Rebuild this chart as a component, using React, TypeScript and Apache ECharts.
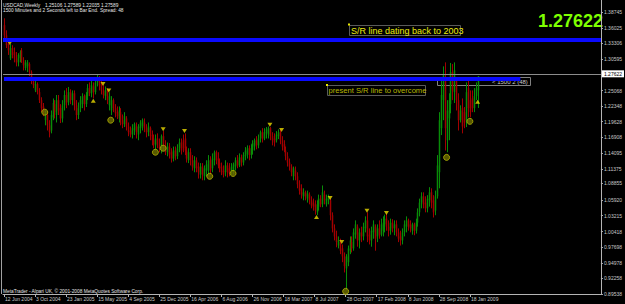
import React, { useEffect, useRef } from "react";
import * as echarts from "echarts";

// ---- data ----
const xTickLabels = [
  "12 Jun 2004", "3 Oct 2004", "23 Jan 2005", "15 May 2005", "4 Sep 2005", "25 Dec 2005",
  "16 Apr 2006", "6 Aug 2006", "26 Nov 2006", "18 Mar 2007", "8 Jul 2007", "28 Oct 2007",
  "17 Feb 2008", "8 Jun 2008", "28 Sep 2008", "18 Jan 2009",
];
const yTickValues = [
  0.89538, 0.92258, 0.94978, 0.97698, 1.00418, 1.03215, 1.0592, 1.08855, 1.11375, 1.14095,
  1.16908, 1.19628, 1.22348, 1.25068, 1.30595, 1.33306, 1.36025, 1.38745,
];
const yMin = 0.89538;
const yMax = 1.40894;
const SLOTS = 308; // weekly slots visible on the chart (bars + empty space on the right)

// weekly candles: [open, close, low, high]
const candles: number[][] = [
  [1.365,1.347,1.339,1.377],[1.347,1.330,1.325,1.356],[1.332,1.321,1.313,1.339],[1.307,1.325,1.304,1.332],[1.325,1.313,1.307,1.330],
  [1.318,1.307,1.300,1.326],[1.307,1.300,1.293,1.318],[1.300,1.313,1.293,1.316],[1.307,1.318,1.300,1.321],[1.321,1.304,1.299,1.325],
  [1.304,1.295,1.286,1.309],[1.290,1.300,1.286,1.304],[1.293,1.300,1.283,1.304],[1.297,1.283,1.276,1.300],[1.283,1.269,1.262,1.286],
  [1.269,1.260,1.255,1.274],[1.251,1.262,1.248,1.269],[1.262,1.248,1.244,1.265],[1.248,1.234,1.229,1.255],[1.234,1.220,1.213,1.239],
  [1.223,1.213,1.206,1.229],[1.199,1.211,1.190,1.216],[1.208,1.190,1.181,1.213],[1.190,1.178,1.169,1.199],[1.181,1.208,1.176,1.216],
  [1.204,1.229,1.199,1.237],[1.227,1.213,1.202,1.234],[1.208,1.234,1.195,1.243],[1.234,1.216,1.208,1.243],[1.220,1.202,1.194,1.227],
  [1.202,1.225,1.195,1.234],[1.225,1.243,1.216,1.251],[1.243,1.230,1.220,1.255],[1.230,1.248,1.225,1.257],[1.248,1.234,1.227,1.253],
  [1.234,1.246,1.225,1.251],[1.246,1.225,1.216,1.251],[1.225,1.208,1.199,1.234],[1.208,1.220,1.201,1.230],[1.220,1.234,1.213,1.241],
  [1.227,1.241,1.220,1.246],[1.241,1.227,1.216,1.244],[1.227,1.243,1.222,1.248],[1.241,1.255,1.234,1.262],[1.255,1.246,1.241,1.265],
  [1.246,1.260,1.239,1.269],[1.258,1.248,1.237,1.265],[1.248,1.265,1.244,1.272],[1.265,1.272,1.258,1.279],[1.271,1.260,1.251,1.276],
  [1.262,1.251,1.244,1.269],[1.251,1.243,1.237,1.260],[1.241,1.251,1.234,1.258],[1.251,1.234,1.227,1.255],[1.225,1.241,1.216,1.248],
  [1.216,1.234,1.208,1.241],[1.234,1.220,1.213,1.237],[1.220,1.211,1.204,1.227],[1.213,1.206,1.201,1.223],[1.202,1.216,1.195,1.223],
  [1.213,1.199,1.190,1.220],[1.199,1.192,1.185,1.209],[1.192,1.206,1.187,1.213],[1.202,1.188,1.181,1.206],[1.188,1.178,1.171,1.195],
  [1.181,1.174,1.169,1.188],[1.174,1.185,1.167,1.192],[1.181,1.192,1.173,1.195],[1.188,1.178,1.167,1.195],[1.174,1.188,1.164,1.192],
  [1.185,1.195,1.176,1.199],[1.188,1.199,1.181,1.202],[1.195,1.185,1.178,1.202],[1.185,1.178,1.169,1.192],[1.178,1.188,1.171,1.195],
  [1.185,1.171,1.164,1.188],[1.173,1.164,1.155,1.181],[1.164,1.157,1.150,1.174],[1.155,1.167,1.146,1.174],[1.167,1.157,1.150,1.176],
  [1.157,1.150,1.143,1.167],[1.146,1.171,1.141,1.174],[1.171,1.155,1.146,1.180],[1.155,1.143,1.138,1.164],[1.143,1.153,1.136,1.160],
  [1.153,1.139,1.132,1.159],[1.143,1.132,1.125,1.150],[1.132,1.146,1.127,1.153],[1.146,1.136,1.129,1.153],[1.136,1.150,1.131,1.157],
  [1.150,1.160,1.143,1.167],[1.160,1.146,1.139,1.167],[1.164,1.150,1.143,1.174],[1.167,1.146,1.138,1.176],[1.146,1.132,1.125,1.153],
  [1.129,1.143,1.124,1.150],[1.143,1.129,1.120,1.150],[1.129,1.118,1.111,1.138],[1.115,1.129,1.108,1.136],[1.129,1.115,1.108,1.134],
  [1.118,1.108,1.097,1.125],[1.104,1.118,1.097,1.124],[1.118,1.104,1.094,1.124],[1.101,1.115,1.094,1.120],[1.111,1.122,1.101,1.129],
  [1.111,1.129,1.104,1.138],[1.129,1.111,1.104,1.136],[1.115,1.132,1.108,1.141],[1.129,1.143,1.120,1.146],[1.143,1.129,1.122,1.146],
  [1.132,1.120,1.115,1.143],[1.124,1.115,1.108,1.132],[1.118,1.108,1.103,1.125],[1.111,1.104,1.099,1.120],[1.108,1.120,1.101,1.129],
  [1.120,1.108,1.099,1.125],[1.115,1.106,1.101,1.124],[1.108,1.118,1.103,1.124],[1.111,1.122,1.104,1.125],[1.118,1.129,1.111,1.134],
  [1.129,1.120,1.115,1.138],[1.120,1.134,1.117,1.141],[1.134,1.125,1.118,1.139],[1.125,1.138,1.120,1.143],[1.136,1.146,1.129,1.152],
  [1.139,1.150,1.132,1.155],[1.150,1.138,1.129,1.155],[1.138,1.150,1.132,1.157],[1.146,1.159,1.139,1.164],[1.153,1.164,1.146,1.167],
  [1.164,1.155,1.148,1.171],[1.155,1.167,1.150,1.174],[1.167,1.178,1.160,1.181],[1.178,1.167,1.160,1.185],[1.167,1.178,1.164,1.185],
  [1.176,1.183,1.167,1.187],[1.174,1.185,1.167,1.188],[1.185,1.171,1.164,1.187],[1.171,1.164,1.155,1.178],[1.167,1.160,1.153,1.176],
  [1.164,1.174,1.160,1.180],[1.171,1.178,1.166,1.183],[1.178,1.164,1.157,1.183],[1.164,1.153,1.146,1.171],[1.157,1.146,1.143,1.164],
  [1.146,1.136,1.129,1.153],[1.136,1.125,1.118,1.143],[1.125,1.118,1.111,1.132],[1.118,1.108,1.101,1.122],[1.101,1.115,1.094,1.118],
  [1.111,1.101,1.094,1.118],[1.101,1.087,1.080,1.108],[1.087,1.076,1.069,1.094],[1.080,1.069,1.062,1.087],[1.066,1.073,1.059,1.080],
  [1.073,1.066,1.059,1.076],[1.062,1.071,1.055,1.076],[1.069,1.059,1.052,1.073],[1.059,1.050,1.045,1.066],[1.055,1.048,1.041,1.062],
  [1.052,1.041,1.034,1.059],[1.038,1.052,1.033,1.059],[1.048,1.062,1.041,1.069],[1.062,1.052,1.047,1.068],[1.052,1.073,1.047,1.085],
  [1.069,1.059,1.052,1.076],[1.052,1.062,1.048,1.069],[1.059,1.066,1.052,1.069],[1.059,1.033,1.024,1.062],[1.033,1.010,1.003,1.038],
  [1.010,0.996,0.989,1.017],[0.996,0.986,0.977,1.006],[0.980,0.989,0.975,0.996],[0.986,0.971,0.965,0.992],[0.975,0.961,0.951,0.982],
  [0.961,0.944,0.933,0.968],[0.940,0.961,0.903,0.965],[0.951,0.975,0.944,0.980],[0.971,0.989,0.965,0.996],[0.986,0.975,0.968,0.996],
  [0.975,1.003,0.971,1.010],[0.999,1.017,0.992,1.024],[1.013,0.989,0.978,1.017],[0.989,1.003,0.975,1.010],[1.003,0.996,0.986,1.013],
  [0.996,1.013,0.989,1.020],[1.010,1.024,1.003,1.031],[1.024,0.996,0.986,1.038],[0.999,0.989,0.982,1.010],[0.989,1.006,0.978,1.013],
  [1.003,1.017,0.992,1.024],[1.013,0.992,0.971,1.017],[0.996,1.010,0.986,1.017],[1.010,0.999,0.992,1.024],[0.999,1.017,0.996,1.027],
  [1.006,1.020,0.996,1.031],[1.017,1.027,1.003,1.034],[1.027,1.013,1.006,1.036],[1.013,1.006,0.996,1.024],[1.006,1.020,0.999,1.027],
  [1.020,1.010,1.003,1.026],[1.010,1.017,0.998,1.024],[1.017,1.003,0.996,1.024],[1.003,0.992,0.986,1.010],[0.996,0.989,0.980,1.006],
  [0.989,1.003,0.982,1.010],[1.003,1.017,0.996,1.024],[1.013,1.024,1.003,1.031],[1.024,1.013,1.006,1.027],[1.017,1.010,1.003,1.024],
  [1.006,1.017,0.999,1.020],[1.017,1.006,0.998,1.020],[1.006,1.020,1.001,1.027],[1.020,1.038,1.013,1.045],[1.038,1.055,1.031,1.062],
  [1.055,1.066,1.045,1.073],[1.066,1.052,1.045,1.073],[1.055,1.045,1.038,1.066],[1.045,1.062,1.038,1.068],[1.059,1.073,1.048,1.082],
  [1.073,1.055,1.045,1.080],[1.059,1.038,1.029,1.068],[1.041,1.066,1.033,1.076],[1.066,1.120,1.062,1.138],[1.108,1.199,1.080,1.213],
  [1.185,1.243,1.173,1.269],[1.234,1.278,1.199,1.293],[1.272,1.185,1.146,1.300],[1.164,1.216,1.143,1.234],[1.202,1.234,1.164,1.246],
  [1.227,1.283,1.211,1.299],[1.283,1.251,1.234,1.297],[1.248,1.286,1.229,1.300],[1.269,1.234,1.216,1.274],[1.234,1.199,1.181,1.246],
  [1.199,1.216,1.195,1.225],[1.220,1.188,1.176,1.237],[1.213,1.195,1.185,1.222],[1.199,1.248,1.187,1.265],[1.255,1.220,1.204,1.274],
  [1.234,1.213,1.204,1.251],[1.237,1.220,1.213,1.251],[1.220,1.241,1.213,1.255],[1.241,1.255,1.234,1.265],[1.25106,1.27589,1.22035,1.27589],
];

// fractal arrows [bar index, price]
const fractalHighs = [
  [3, 1.334], [51, 1.262], [54, 1.251], [82, 1.183], [93, 1.180], [137, 1.191],
  [143, 1.182], [168, 1.063], [174, 0.986], [187, 1.041], [197, 1.037],
];
const fractalLows = [[46, 1.233], [161, 1.030], [244, 1.231]];
// olive circle markers [bar index, price]
const circleMarks = [
  [21, 1.213], [55, 1.199], [78, 1.143], [82, 1.150], [106, 1.101], [118, 1.106],
  [176, 0.900], [228, 1.134], [240, 1.197],
];

const srLine2003 = 1.339;
const srLinePresent = 1.2715;
const srLinePresentEndBar = 266;
const currentPrice = 1.27622;
const currentPriceText = "1.27622";

const FONT = "'Liberation Sans', Arial, sans-serif";
const UP = "#088c08";
const DOWN = "#a20000";

export default function App() {
  const ref = useRef<HTMLDivElement>(null);

  useEffect(() => {
    document.body.style.margin = "0";
    document.body.style.background = "#000";
    if (!ref.current) return;
    const chart = echarts.init(ref.current, null, { renderer: "svg", width: 625, height: 304 });
    const categories = Array.from({ length: SLOTS }, (_, i) => String(i));
    const isTick = (i: number) => i % 16 === 0 && i / 16 < xTickLabels.length;

    const option: any = {
      animation: false,
      backgroundColor: "#000000",
      grid: { left: 3, right: 19, top: 0, bottom: 10, containLabel: false },
      xAxis: {
        type: "category",
        data: categories,
        boundaryGap: true,
        axisLine: { show: true, onZero: false, lineStyle: { color: "#b4b4b4", width: 1 } },
        axisTick: { show: true, alignWithLabel: true, interval: isTick, length: 3, lineStyle: { color: "#b4b4b4" } },
        axisLabel: {
          show: true,
          interval: isTick,
          formatter: (_v: string, i: number) => xTickLabels[i / 16] ?? "",
          align: "left",
          color: "#c8c8c8",
          fontSize: 5,
          fontFamily: FONT,
          margin: 2,
          padding: [0, 0, 0, 1],
        },
        splitLine: { show: false },
      },
      yAxis: {
        type: "value",
        position: "right",
        min: yMin,
        max: yMax,
        axisLine: { show: true, lineStyle: { color: "#b4b4b4", width: 1 } },
        axisTick: { show: true, customValues: yTickValues, length: 2, lineStyle: { color: "#b4b4b4" } },
        axisLabel: {
          show: true,
          customValues: yTickValues,
          formatter: (v: number) => v.toFixed(5),
          color: "#c8c8c8",
          fontSize: 5,
          fontFamily: FONT,
          margin: 3,
        },
        splitLine: { show: false },
      },
      series: [
        {
          type: "line",
          data: [],
          z: 1,
          silent: true,
          markLine: {
            silent: true,
            symbol: ["none", "none"],
            data: [
              { yAxis: srLine2003, lineStyle: { color: "#0a0aff", width: 4, type: "solid" }, label: { show: false } },
              [
                { coord: [0, srLinePresent], lineStyle: { color: "#0a0aff", width: 4, type: "solid" }, label: { show: false } },
                { coord: [srLinePresentEndBar, srLinePresent], lineStyle: { color: "#0a0aff", width: 4, type: "solid" } },
              ],
              {
                yAxis: currentPrice,
                lineStyle: { color: "#8c8c8c", width: 1, type: "solid" },
                label: {
                  show: true,
                  position: "end",
                  formatter: currentPriceText,
                  color: "#000",
                  backgroundColor: "#ffffff",
                  fontSize: 5,
                  fontFamily: FONT,
                  padding: [1, 2, 1, 2],
                  distance: 1,
                },
              },
            ],
          },
        },
        {
          type: "custom",
          z: 3,
          silent: true,
          data: candles.map((c, i) => [i, c[0], c[1], c[2], c[3]]),
          encode: { x: 0, y: [1, 2, 3, 4] },
          renderItem: (_params: any, api: any) => {
            const i = api.value(0);
            const o = api.value(1);
            const c = api.value(2);
            const l = api.value(3);
            const h = api.value(4);
            const pO = api.coord([i, o]);
            const pC = api.coord([i, c]);
            const pL = api.coord([i, l]);
            const pH = api.coord([i, h]);
            const xi = Math.round(pO[0]);
            const col = c >= o ? UP : DOWN;
            const top = Math.min(pO[1], pC[1]);
            const hgt = Math.max(1, Math.abs(pO[1] - pC[1]));
            return {
              type: "group",
              children: [
                { type: "line", shape: { x1: xi + 0.5, y1: pH[1], x2: xi + 0.5, y2: pL[1] }, style: { stroke: col, lineWidth: 1 } },
                { type: "rect", shape: { x: xi - 0.25, y: top, width: 1.5, height: hgt }, style: { fill: col } },
              ],
            };
          },
        },
        {
          type: "scatter",
          data: fractalHighs,
          z: 4,
          silent: true,
          symbol: "triangle",
          symbolRotate: 180,
          symbolSize: [5, 4],
          itemStyle: { color: "#e8d800" },
        },
        {
          type: "scatter",
          data: fractalLows,
          z: 4,
          silent: true,
          symbol: "triangle",
          symbolSize: [5, 4],
          itemStyle: { color: "#e8d800" },
        },
        {
          type: "scatter",
          data: circleMarks,
          z: 4,
          silent: true,
          symbol: "circle",
          symbolSize: 6,
          itemStyle: { color: "#6e6e00", borderColor: "#b4b400", borderWidth: 1 },
        },
      ],
      graphic: [
        { type: "line", shape: { x1: 1.5, y1: 0, x2: 1.5, y2: 294 }, style: { stroke: "#a0a0a0", lineWidth: 1 } },
        { type: "text", x: 3, y: 5, style: { text: "USDCAD,Weekly", fill: "#e6e6e6", fontSize: 4.8, fontFamily: FONT, align: "left", verticalAlign: "middle" } },
        { type: "text", x: 45, y: 5, style: { text: "1.25106 1.27589 1.22035 1.27589", fill: "#e6e6e6", fontSize: 4.8, fontFamily: FONT, align: "left", verticalAlign: "middle" } },
        { type: "text", x: 3, y: 10.5, style: { text: "1500 Minutes and 2 Seconds left to Bar End.", fill: "#e6e6e6", fontSize: 4.8, fontFamily: FONT, align: "left", verticalAlign: "middle" } },
        { type: "text", x: 100, y: 10.5, style: { text: "Spread: 48", fill: "#e6e6e6", fontSize: 4.8, fontFamily: FONT, align: "left", verticalAlign: "middle" } },
        { type: "text", x: 3, y: 291.5, style: { text: "MetaTrader - Alpari UK, © 2001-2008 MetaQuotes Software Corp.", fill: "#e6e6e6", fontSize: 4.8, fontFamily: FONT, align: "left", verticalAlign: "middle" } },
        { type: "text", x: 603, y: 20.5, style: { text: currentPriceText, fill: "#7fff00", fontSize: 18, fontWeight: "bold", fontFamily: FONT, align: "right", verticalAlign: "middle" } },
        { type: "rect", shape: { x: 349.5, y: 25.5, width: 111, height: 10 }, style: { fill: "none", stroke: "#5a5a5a", lineWidth: 1 } },
        { type: "rect", shape: { x: 348, y: 23.5, width: 2, height: 2 }, style: { fill: "#e8e800" } },
        { type: "text", x: 351, y: 30.5, style: { text: "S/R line dating back to 2003", fill: "#ecec10", fontSize: 9, fontFamily: FONT, align: "left", verticalAlign: "middle" } },
        { type: "rect", shape: { x: 327.5, y: 85.5, width: 98, height: 10 }, style: { fill: "none", stroke: "#5a5a5a", lineWidth: 1 } },
        { type: "rect", shape: { x: 326, y: 84, width: 2, height: 2 }, style: { fill: "#e8e800" } },
        { type: "text", x: 328.5, y: 90.5, style: { text: "present S/R line to overcome", fill: "#b8b800", fontSize: 7.6, fontFamily: FONT, align: "left", verticalAlign: "middle" } },
        { type: "rect", shape: { x: 437.5, y: 77.5, width: 93, height: 8 }, style: { fill: "none", stroke: "#808080", lineWidth: 1 } },
        { type: "text", x: 492, y: 81.5, style: { text: "< 1500 2 (48)", fill: "#c8c8c8", fontSize: 6, fontFamily: FONT, align: "left", verticalAlign: "middle" } },
        { type: "rect", shape: { x: 197, y: 39, width: 2.5, height: 2 }, style: { fill: "#ffffff" } },
        { type: "rect", shape: { x: 87, y: 78, width: 2.5, height: 2 }, style: { fill: "#ffffff" } },
      ],
    };

    chart.setOption(option);
    return () => chart.dispose();
  }, []);

  return (
    <div
      ref={ref}
      style={{ position: "fixed", left: 0, top: 0, width: 625, height: 304, background: "#000" }}
    />
  );
}
